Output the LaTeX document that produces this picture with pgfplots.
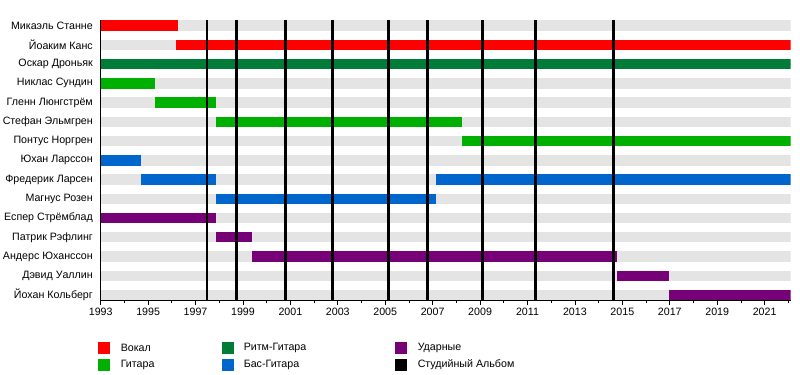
\documentclass[border=0pt]{standalone}
\usepackage{fontspec}
\setmainfont{Liberation Sans}
\usepackage{pgfplots}
\pgfplotsset{compat=1.18}
\definecolor{cVoc}{RGB}{255,0,0}
\definecolor{cGtr}{RGB}{0,176,0}
\definecolor{cRhy}{RGB}{0,123,56}
\definecolor{cBas}{RGB}{0,102,204}
\definecolor{cDrm}{RGB}{118,0,118}
\definecolor{cBg}{RGB}{228,228,228}
\newcommand{\fs}{\fontsize{8pt}{9.6pt}\selectfont}
\begin{document}
\begin{tikzpicture}
\path[use as bounding box] (0,0) rectangle (600pt,-281.25pt);
\begin{axis}[
  at={(0.75*100.7pt,-0.75*300.8pt)}, anchor=south west,
  scale only axis, width=0.75*690pt, height=0.75*281pt,
  xmin=1993, xmax=2022.1, ymin=-0.3, ymax=14.3, y dir=reverse,
  axis x line=bottom, axis y line=left, axis line style={-, black, line width=0.6pt},
  xtick={1993,1995,...,2021}, minor xtick={1994,1996,...,2022},
  tick align=outside, major tick length=3pt, minor tick length=1.8pt,
  tick style={black, line width=0.5pt},
  ytick={0,...,14},
  yticklabels={Микаэль Станне,Йоаким Канс,Оскар Дроньяк,Никлас Сундин,Гленн Люнгстрём,Стефан Эльмгрен,Понтус Норгрен,Юхан Ларссон,Фредерик Ларсен,Магнус Розен,Еспер Стрёмблад,Патрик Рэфлинг,Андерс Юханссон,Дэвид Уаллин,Йохан Кольберг},
  y tick style={draw=none},
  tick label style={font=\fs},
  yticklabel style={anchor=east, xshift=0.6pt},
  xticklabel style={yshift=1pt},
  /pgf/number format/assume math mode=true,
  /pgf/number format/1000 sep={},
]
% background rows
\pgfplotsinvokeforeach{0,...,14}{
  \addplot[cBg, line width=7.8pt] coordinates {(1993,#1) (2022.1,#1)};
}
% members
\addplot[cVoc, line width=7.8pt] coordinates {(1993,0) (1996.28,0)};
\addplot[cVoc, line width=7.8pt] coordinates {(1996.18,1) (2022.1,1)};
\addplot[cRhy, line width=7.8pt] coordinates {(1993,2) (2022.1,2)};
\addplot[cGtr, line width=7.8pt] coordinates {(1993,3) (1995.29,3)};
\addplot[cGtr, line width=7.8pt] coordinates {(1995.29,4) (1997.86,4)};
\addplot[cGtr, line width=7.8pt] coordinates {(1997.86,5) (2008.23,5)};
\addplot[cGtr, line width=7.8pt] coordinates {(2008.23,6) (2022.1,6)};
\addplot[cBas, line width=7.8pt] coordinates {(1993,7) (1994.7,7)};
\addplot[cBas, line width=7.8pt] coordinates {(1994.7,8) (1997.86,8)};
\addplot[cBas, line width=7.8pt] coordinates {(2007.15,8) (2022.1,8)};
\addplot[cBas, line width=7.8pt] coordinates {(1997.86,9) (2007.15,9)};
\addplot[cDrm, line width=7.8pt] coordinates {(1993,10) (1997.86,10)};
\addplot[cDrm, line width=7.8pt] coordinates {(1997.86,11) (1999.36,11)};
\addplot[cDrm, line width=7.8pt] coordinates {(1999.36,12) (2014.77,12)};
\addplot[cDrm, line width=7.8pt] coordinates {(2014.77,13) (2016.97,13)};
\addplot[cDrm, line width=7.8pt] coordinates {(2016.97,14) (2022.1,14)};
% studio albums
\pgfplotsinvokeforeach{1997.49,1998.74,2000.78,2002.77,2005.14,2006.78,2009.1,2011.34,2014.63}{
  \addplot[black, line width=2pt] coordinates {(#1,-0.3) (#1,14.3)};
}
\end{axis}
% legend
\fill[cVoc] (0.75*98pt,-0.75*342pt) rectangle (0.75*110pt,-0.75*354pt);
\fill[cGtr] (0.75*98pt,-0.75*359pt) rectangle (0.75*110pt,-0.75*371pt);
\fill[cRhy] (0.75*222pt,-0.75*342pt) rectangle (0.75*234pt,-0.75*354pt);
\fill[cBas] (0.75*222pt,-0.75*359pt) rectangle (0.75*234pt,-0.75*371pt);
\fill[cDrm] (0.75*395pt,-0.75*342pt) rectangle (0.75*407pt,-0.75*354pt);
\fill[black] (0.75*395pt,-0.75*359pt) rectangle (0.75*407pt,-0.75*371pt);
\begin{scope}[every node/.style={anchor=west, inner sep=0pt, font=\fs}]
\node at (0.75*120.5pt,-0.75*348pt) {Вокал};
\node at (0.75*120.5pt,-0.75*365pt) {Гитара};
\node at (0.75*243.5pt,-0.75*348pt) {Ритм-Гитара};
\node at (0.75*243.5pt,-0.75*365pt) {Бас-Гитара};
\node at (0.75*417.5pt,-0.75*348pt) {Ударные};
\node at (0.75*417.5pt,-0.75*365pt) {Студийный Альбом};
\end{scope}
\end{tikzpicture}
\end{document}
